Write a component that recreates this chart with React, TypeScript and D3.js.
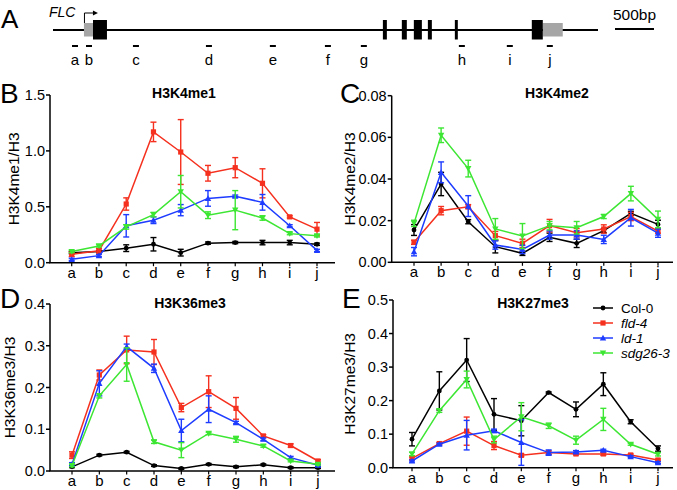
import React from "react";
import * as d3 from "d3";

// ---------- data ----------
const categories = ["a", "b", "c", "d", "e", "f", "g", "h", "i", "j"];
const seriesNames = ["Col-0", "fld-4", "ld-1", "sdg26-3"];
const seriesItalic = [false, true, true, true];
const seriesColors = ["#000000", "#f5301e", "#1e3cff", "#3de633"];
const seriesShapes = ["circle", "square", "triUp", "triDown"];

// Panel B: H3K4me1
const k4me1Col0 = [0.09, 0.1, 0.13, 0.165, 0.09, 0.175, 0.18, 0.18, 0.18, 0.165];
const k4me1Col0Err = [0.01, 0.01, 0.03, 0.06, 0.03, 0.01, 0.01, 0.02, 0.02, 0.01];
const k4me1Fld4 = [0.075, 0.107, 0.525, 1.17, 0.99, 0.8, 0.85, 0.71, 0.41, 0.3];
const k4me1Fld4Err = [0.02, 0.02, 0.055, 0.087, 0.29, 0.07, 0.09, 0.13, 0.01, 0.06];
const k4me1Ld1 = [0.03, 0.063, 0.33, 0.38, 0.47, 0.575, 0.595, 0.54, 0.33, 0.11];
const k4me1Ld1Err = [0.01, 0.01, 0.1, 0.03, 0.05, 0.07, 0.01, 0.07, 0.01, 0.01];
const k4me1Sdg = [0.1, 0.15, 0.32, 0.43, 0.635, 0.425, 0.47, 0.4, 0.26, 0.24];
const k4me1SdgErr = [0.01, 0.01, 0.02, 0.02, 0.145, 0.03, 0.175, 0.02, 0.01, 0.01];

// Panel C: H3K4me2
const k4me2Col0 = [0.0155, 0.0376, 0.0195, 0.0075, 0.0043, 0.012, 0.0091, 0.0152, 0.0235, 0.0182];
const k4me2Col0Err = [0.0026, 0.0056, 0.001, 0.003, 0.001, 0.002, 0.002, 0.001, 0.001, 0.002];
const k4me2Fld4 = [0.0096, 0.0248, 0.0267, 0.0128, 0.0091, 0.0176, 0.0142, 0.016, 0.022, 0.015];
const k4me2Fld4Err = [0.001, 0.002, 0.001, 0.002, 0.002, 0.003, 0.002, 0.002, 0.002, 0.001];
const k4me2Ld1 = [0.0051, 0.0432, 0.027, 0.0083, 0.0062, 0.0131, 0.0131, 0.011, 0.0214, 0.014];
const k4me2Ld1Err = [0.002, 0.005, 0.005, 0.002, 0.002, 0.002, 0.002, 0.002, 0.004, 0.002];
const k4me2Sdg = [0.0187, 0.061, 0.045, 0.016, 0.0126, 0.0176, 0.0166, 0.022, 0.033, 0.0206];
const k4me2SdgErr = [0.0015, 0.0035, 0.004, 0.005, 0.006, 0.002, 0.003, 0.001, 0.0035, 0.004];

// Panel D: H3K36me3
const k36me3Col0 = [0.01, 0.038, 0.045, 0.013, 0.006, 0.016, 0.01, 0.015, 0.008, 0.008];
const k36me3Col0Err = [0.002, 0.002, 0.002, 0.002, 0.002, 0.002, 0.002, 0.002, 0.002, 0.002];
const k36me3Fld4 = [0.038, 0.23, 0.29, 0.285, 0.152, 0.19, 0.15, 0.084, 0.061, 0.024];
const k36me3Fld4Err = [0.008, 0.012, 0.033, 0.03, 0.01, 0.038, 0.026, 0.003, 0.004, 0.003];
const k36me3Ld1 = [0.016, 0.21, 0.298, 0.246, 0.097, 0.148, 0.116, 0.076, 0.032, 0.014];
const k36me3Ld1Err = [0.004, 0.03, 0.006, 0.01, 0.027, 0.032, 0.003, 0.003, 0.003, 0.002];
const k36me3Sdg = [0.013, 0.18, 0.255, 0.07, 0.05, 0.09, 0.076, 0.06, 0.024, 0.016];
const k36me3SdgErr = [0.003, 0.005, 0.04, 0.004, 0.018, 0.003, 0.007, 0.003, 0.002, 0.002];

// Panel E: H3K27me3
const k27me3Col0 = [0.085, 0.229, 0.321, 0.159, 0.14, 0.224, 0.174, 0.249, 0.137, 0.057];
const k27me3Col0Err = [0.02, 0.057, 0.064, 0.047, 0.045, 0.002, 0.022, 0.034, 0.006, 0.008];
const k27me3Fld4 = [0.028, 0.072, 0.109, 0.066, 0.037, 0.045, 0.041, 0.041, 0.038, 0.023];
const k27me3Fld4Err = [0.004, 0.003, 0.042, 0.012, 0.004, 0.005, 0.003, 0.004, 0.003, 0.003];
const k27me3Ld1 = [0.02, 0.07, 0.097, 0.11, 0.075, 0.045, 0.047, 0.052, 0.033, 0.015];
const k27me3Ld1Err = [0.003, 0.003, 0.044, 0.005, 0.068, 0.008, 0.004, 0.003, 0.003, 0.003];
const k27me3Sdg = [0.041, 0.17, 0.263, 0.084, 0.152, 0.125, 0.082, 0.144, 0.07, 0.04];
const k27me3SdgErr = [0.005, 0.005, 0.025, 0.01, 0.042, 0.008, 0.012, 0.033, 0.003, 0.005];

// Gene structure (bp)
const geneLength = 6990;
const utrSegments = [[397, 513], [6282, 6538]];
const exonSegments = [[513, 692], [4231, 4282], [4474, 4538], [4628, 4731], [4808, 4859], [5154, 5192], [6141, 6282]];
const ampliconCenters = [282, 462, 1064, 2000, 2820, 3526, 3987, 5244, 5859, 6372];
const ampliconLength = 77;
const scaleBarBp = 500;
const tssBp = 397;

const FONT = "'Liberation Sans', Arial, Helvetica, sans-serif";

type PanelCfg = {
  letter: string;
  letterX: number;
  letterY: number;
  title: string;
  titleX: number;
  titleY: number;
  ylabel: string;
  ylabelX: number;
  axisX: number;
  bottom: number;
  top: number;
  cat0: number;
  cat1: number;
  xEnd: number;
  max: number;
  step: number;
  fmt: string;
  values: number[][];
  errors: number[][];
  legend?: { x: number; y: number };
};

function Marker({ shape, cx, cy, color }: { shape: string; cx: number; cy: number; color: string }) {
  if (shape === "circle") return <circle cx={cx} cy={cy} r={2.4} fill={color} />;
  if (shape === "square") return <rect x={cx - 2.6} y={cy - 2.6} width={5.2} height={5.2} fill={color} />;
  const s = 3.2;
  if (shape === "triUp")
    return <polygon points={`${cx - s},${cy + s * 0.8} ${cx + s},${cy + s * 0.8} ${cx},${cy - s}`} fill={color} />;
  return <polygon points={`${cx - s},${cy - s * 0.8} ${cx + s},${cy - s * 0.8} ${cx},${cy + s}`} fill={color} />;
}

function Panel({ cfg }: { cfg: PanelCfg }) {
  const x = d3.scalePoint<string>().domain(categories).range([cfg.cat0, cfg.cat1]);
  const y = d3.scaleLinear().domain([0, cfg.max]).range([cfg.bottom, cfg.top]);
  const ticks = d3.range(0, cfg.max + cfg.step / 2, cfg.step);
  const fmt = d3.format(cfg.fmt);
  const line = d3
    .line<number>()
    .x((_, i) => x(categories[i])!)
    .y((d) => y(d));
  return (
    <g>
      <text x={cfg.letterX} y={cfg.letterY} fontSize={28} fontFamily={FONT}>
        {cfg.letter}
      </text>
      <text x={cfg.titleX} y={cfg.titleY} fontSize={14} fontWeight="bold" textAnchor="middle" fontFamily={FONT}>
        {cfg.title}
      </text>
      <text
        transform={`translate(${cfg.ylabelX},${(cfg.top + cfg.bottom) / 2}) rotate(-90)`}
        fontSize={15.5}
        textAnchor="middle"
        dominantBaseline="central"
        fontFamily={FONT}
      >
        {cfg.ylabel}
      </text>
      {/* axes */}
      <line x1={cfg.axisX} x2={cfg.axisX} y1={cfg.top} y2={cfg.bottom} stroke="#000" strokeWidth={1.5} />
      <line x1={cfg.axisX - 0.75} x2={cfg.xEnd} y1={cfg.bottom} y2={cfg.bottom} stroke="#000" strokeWidth={1.5} />
      {ticks.map((t) => (
        <g key={t}>
          <line x1={cfg.axisX - 4} x2={cfg.axisX} y1={y(t)} y2={y(t)} stroke="#000" strokeWidth={1.5} />
          <text
            x={cfg.axisX - 5}
            y={y(t)}
            fontSize={14.5}
            textAnchor="end"
            dominantBaseline="central"
            fontFamily={FONT}
          >
            {fmt(t)}
          </text>
        </g>
      ))}
      {categories.map((c) => (
        <g key={c}>
          <line x1={x(c)} x2={x(c)} y1={cfg.bottom} y2={cfg.bottom + 3.5} stroke="#000" strokeWidth={1.2} />
          <text x={x(c)} y={cfg.bottom + 15} fontSize={15} textAnchor="middle" fontFamily={FONT}>
            {c}
          </text>
        </g>
      ))}
      {/* series */}
      {cfg.values.map((vals, si) => (
        <g key={si}>
          <path d={line(vals) || ""} fill="none" stroke={seriesColors[si]} strokeWidth={1.5} />
          {vals.map((v, i) => {
            const cx = x(categories[i])!;
            const e = cfg.errors[si][i];
            const y1 = y(v + e);
            const y2 = y(Math.max(0, v - e));
            return (
              <g key={i} stroke={seriesColors[si]} strokeWidth={1.4}>
                <line x1={cx} x2={cx} y1={y1} y2={y2} />
                <line x1={cx - 3} x2={cx + 3} y1={y1} y2={y1} />
                <line x1={cx - 3} x2={cx + 3} y1={y2} y2={y2} />
              </g>
            );
          })}
          {vals.map((v, i) => (
            <Marker key={i} shape={seriesShapes[si]} cx={x(categories[i])!} cy={y(v)} color={seriesColors[si]} />
          ))}
        </g>
      ))}
      {cfg.legend &&
        seriesNames.map((n, si) => {
          const ly = cfg.legend!.y + si * 15;
          return (
            <g key={n}>
              <line x1={cfg.legend!.x} x2={cfg.legend!.x + 20} y1={ly} y2={ly} stroke={seriesColors[si]} strokeWidth={1.5} />
              <Marker shape={seriesShapes[si]} cx={cfg.legend!.x + 10} cy={ly} color={seriesColors[si]} />
              <text
                x={cfg.legend!.x + 28}
                y={ly + 4.8}
                fontSize={13.5}
                fontStyle={seriesItalic[si] ? "italic" : "normal"}
                fontFamily={FONT}
              >
                {n}
              </text>
            </g>
          );
        })}
    </g>
  );
}

function GeneDiagram() {
  const gx = d3.scaleLinear().domain([0, geneLength]).range([53, 598]);
  const lineY = 30;
  const barLen = gx(scaleBarBp) - gx(0);
  return (
    <g>
      <text x={1} y={28} fontSize={26} fontFamily={FONT}>
        A
      </text>
      <text x={49} y={17} fontSize={14} fontStyle="italic" fontFamily={FONT}>
        FLC
      </text>
      <line x1={gx(0)} x2={gx(geneLength)} y1={lineY} y2={lineY} stroke="#000" strokeWidth={1.8} />
      {utrSegments.map(([s, e], i) => (
        <rect key={i} x={gx(s)} y={lineY - 7} width={gx(e) - gx(s)} height={13.5} fill="#a6a6a6" />
      ))}
      {exonSegments.map(([s, e], i) => (
        <rect key={i} x={gx(s)} y={lineY - 10} width={gx(e) - gx(s)} height={19.5} fill="#000" />
      ))}
      {/* TSS arrow */}
      <path
        d={`M${gx(tssBp) + 0.5},${lineY - 7} V13 H${gx(tssBp) + 10}`}
        fill="none"
        stroke="#000"
        strokeWidth={1}
      />
      <polygon
        points={`${gx(tssBp) + 14},13 ${gx(tssBp) + 9},10.5 ${gx(tssBp) + 9},15.5`}
        fill="#000"
      />
      {ampliconCenters.map((c, i) => (
        <g key={i}>
          <line
            x1={gx(c - ampliconLength / 2)}
            x2={gx(c + ampliconLength / 2)}
            y1={46}
            y2={46}
            stroke="#000"
            strokeWidth={2}
          />
          <text x={gx(c)} y={65} fontSize={15} textAnchor="middle" fontFamily={FONT}>
            {categories[i]}
          </text>
        </g>
      ))}
      <line x1={615} x2={615 + barLen} y1={lineY - 1} y2={lineY - 1} stroke="#000" strokeWidth={1.8} />
      <text x={613} y={20} fontSize={15.5} fontFamily={FONT}>
        {`${scaleBarBp}bp`}
      </text>
    </g>
  );
}

const panels: PanelCfg[] = [
  {
    letter: "B",
    letterX: 0,
    letterY: 103,
    title: "H3K4me1",
    titleX: 184,
    titleY: 98,
    ylabel: "H3K4me1/H3",
    ylabelX: 13,
    axisX: 50,
    bottom: 262.7,
    top: 95,
    cat0: 71.7,
    cat1: 317,
    xEnd: 335,
    max: 1.5,
    step: 0.5,
    fmt: ".1f",
    values: [k4me1Col0, k4me1Fld4, k4me1Ld1, k4me1Sdg],
    errors: [k4me1Col0Err, k4me1Fld4Err, k4me1Ld1Err, k4me1SdgErr],
  },
  {
    letter: "C",
    letterX: 340,
    letterY: 103,
    title: "H3K4me2",
    titleX: 557,
    titleY: 98,
    ylabel: "H3K4me2/H3",
    ylabelX: 349,
    axisX: 391.7,
    bottom: 262.3,
    top: 95.7,
    cat0: 414,
    cat1: 658,
    xEnd: 673,
    max: 0.08,
    step: 0.02,
    fmt: ".2f",
    values: [k4me2Col0, k4me2Fld4, k4me2Ld1, k4me2Sdg],
    errors: [k4me2Col0Err, k4me2Fld4Err, k4me2Ld1Err, k4me2SdgErr],
  },
  {
    letter: "D",
    letterX: 0,
    letterY: 308,
    title: "H3K36me3",
    titleX: 190,
    titleY: 308,
    ylabel: "H3K36me3/H3",
    ylabelX: 9,
    axisX: 50,
    bottom: 471,
    top: 304,
    cat0: 72,
    cat1: 318,
    xEnd: 335,
    max: 0.4,
    step: 0.1,
    fmt: ".1f",
    values: [k36me3Col0, k36me3Fld4, k36me3Ld1, k36me3Sdg],
    errors: [k36me3Col0Err, k36me3Fld4Err, k36me3Ld1Err, k36me3SdgErr],
  },
  {
    letter: "E",
    letterX: 342,
    letterY: 308,
    title: "H3K27me3",
    titleX: 533,
    titleY: 308,
    ylabel: "H3K27me3/H3",
    ylabelX: 349,
    axisX: 393,
    bottom: 467.7,
    top: 300,
    cat0: 412,
    cat1: 658,
    xEnd: 673,
    max: 0.5,
    step: 0.1,
    fmt: ".1f",
    values: [k27me3Col0, k27me3Fld4, k27me3Ld1, k27me3Sdg],
    errors: [k27me3Col0Err, k27me3Fld4Err, k27me3Ld1Err, k27me3SdgErr],
    legend: { x: 593, y: 308 },
  },
];

export default function App() {
  return (
    <svg
      width={677}
      height={490}
      style={{ position: "absolute", left: 0, top: 0, background: "#fff" }}
      fontFamily={FONT}
    >
      <rect width={677} height={490} fill="#fff" />
      <GeneDiagram />
      {panels.map((p) => (
        <Panel key={p.letter} cfg={p} />
      ))}
    </svg>
  );
}
